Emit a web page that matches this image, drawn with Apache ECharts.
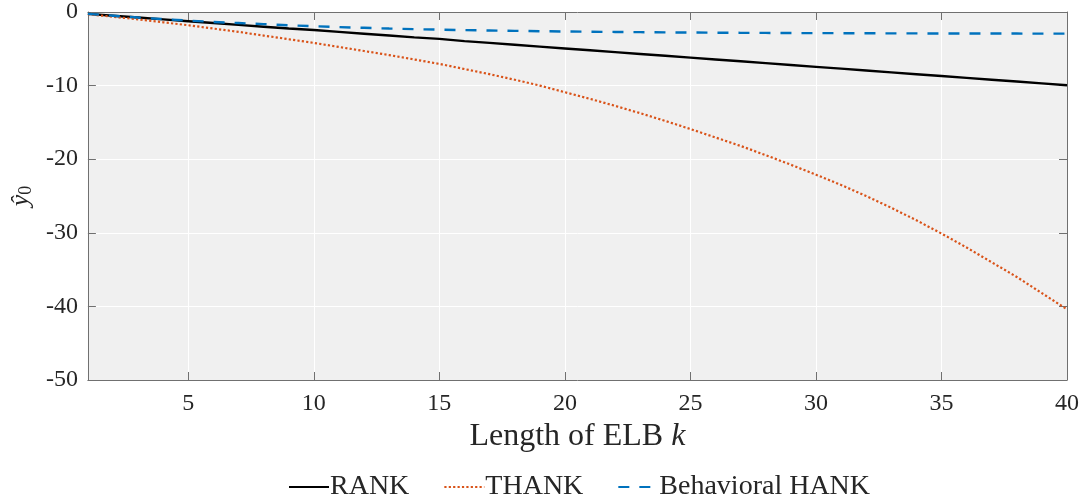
<!DOCTYPE html>
<html>
<head>
<meta charset="utf-8">
<script src="https://cdn.jsdelivr.net/npm/echarts@6/dist/echarts.min.js"></script>
<style>
html,body{margin:0;padding:0;background:#fff;}
#chart{width:1086px;height:502px;}
</style>
</head>
<body>
<div id="chart"></div>
<script>
// Length of ELB k
const kValues = [1,2,3,4,5,6,7,8,9,10,11,12,13,14,15,16,17,18,19,20,21,22,23,24,25,26,27,28,29,30,31,32,33,34,35,36,37,38,39,40];
// RANK (solid black)
const rank = [-0.25,-0.5,-0.75,-1.0,-1.25,-1.5,-1.75,-2.0,-2.25,-2.45,-2.7,-2.95,-3.2,-3.45,-3.65,-3.95,-4.2,-4.45,-4.7,-4.95,-5.2,-5.45,-5.7,-5.95,-6.2,-6.45,-6.7,-6.95,-7.2,-7.45,-7.7,-7.95,-8.2,-8.45,-8.7,-8.95,-9.2,-9.45,-9.7,-9.95];
// THANK (dotted orange)
const thank = [-0.3,-0.65,-1.0,-1.4,-1.8,-2.25,-2.7,-3.2,-3.7,-4.2,-4.75,-5.3,-5.85,-6.45,-7.05,-7.75,-8.45,-9.2,-10.0,-10.9,-11.8,-12.75,-13.75,-14.8,-15.9,-17.05,-18.2,-19.45,-20.75,-22.1,-23.5,-25.0,-26.6,-28.3,-30.1,-32.0,-34.0,-36.0,-38.2,-40.4];
// Behavioral HANK (dashed blue)
const bhank = [-0.25,-0.5,-0.75,-0.97,-1.17,-1.35,-1.5,-1.65,-1.8,-1.93,-2.05,-2.15,-2.25,-2.33,-2.4,-2.46,-2.51,-2.56,-2.61,-2.65,-2.68,-2.71,-2.74,-2.77,-2.79,-2.81,-2.83,-2.84,-2.86,-2.87,-2.88,-2.89,-2.9,-2.91,-2.92,-2.92,-2.93,-2.93,-2.94,-2.94];
const xTicks = [5,10,15,20,25,30,35,40];
const yTicks = [0,-10,-20,-30,-40,-50];
const seriesNames = ['RANK','THANK','Behavioral HANK'];

const FONT = 'Liberation Serif';
const TXT = '#262626';
const AX = '#707070';

function pairs(vals){ return kValues.map((k,i)=>[k, vals[i]]); }

const chart = echarts.init(document.getElementById('chart'), null, {renderer:'canvas'});
const option = {
  animation:false,
  backgroundColor:'#ffffff',
  textStyle:{fontFamily:FONT,color:TXT},
  grid:{left:86,right:19,top:12,bottom:122,show:true,backgroundColor:'#f0f0f0',borderWidth:0,containLabel:false},
  legend:{
    top:468,left:283,
    itemWidth:40,itemHeight:14,itemGap:34,
    itemStyle:{opacity:0,borderWidth:0},
    textStyle:{fontFamily:FONT,fontSize:28,color:TXT,padding:[0,0,0,-4]},
    data:seriesNames
  },
  xAxis:[{
    type:'value',min:1,max:40,position:'bottom',
    name:'Length of ELB {i|k}',nameLocation:'middle',nameGap:40,
    nameTextStyle:{fontFamily:FONT,fontSize:32,color:TXT,rich:{i:{fontFamily:FONT,fontSize:32,fontStyle:'italic',color:TXT}}},
    axisLine:{show:true,onZero:false,lineStyle:{color:AX,width:1}},
    axisTick:{show:true,inside:true,length:8,customValues:xTicks,lineStyle:{color:AX}},
    axisLabel:{show:true,customValues:xTicks,fontFamily:FONT,fontSize:24,color:TXT,margin:12},
    splitLine:{show:true,lineStyle:{color:'#ffffff',width:1}}
  },{
    type:'value',min:1,max:40,position:'top',
    axisLine:{show:true,onZero:false,lineStyle:{color:AX,width:1}},
    axisTick:{show:true,inside:true,length:8,customValues:xTicks,lineStyle:{color:AX}},
    axisLabel:{show:false},splitLine:{show:false}
  }],
  yAxis:[{
    type:'value',min:-50,max:0,interval:10,position:'left',
    name:'{y|ŷ}{s|0}',nameLocation:'middle',nameGap:52,nameRotate:90,
    nameTextStyle:{fontFamily:FONT,color:TXT,rich:{y:{fontFamily:FONT,fontSize:26,fontStyle:'italic',color:TXT},s:{fontFamily:FONT,fontSize:18,color:TXT,verticalAlign:'bottom',padding:[10,0,0,0]}}},
    axisLine:{show:true,onZero:false,lineStyle:{color:AX,width:1}},
    axisTick:{show:true,inside:true,length:8,lineStyle:{color:AX}},
    axisLabel:{show:true,fontFamily:FONT,fontSize:24,color:TXT,margin:10},
    splitLine:{show:true,lineStyle:{color:'#ffffff',width:1}}
  },{
    type:'value',min:-50,max:0,interval:10,position:'right',
    axisLine:{show:true,onZero:false,lineStyle:{color:AX,width:1}},
    axisTick:{show:true,inside:true,length:8,lineStyle:{color:AX}},
    axisLabel:{show:false},splitLine:{show:false}
  }],
  series:[
    {name:seriesNames[0],type:'line',data:pairs(rank),showSymbol:false,symbol:'none',clip:true,
     lineStyle:{color:'#000000',width:2.4,type:'solid'},itemStyle:{color:'#000000'}},
    {name:seriesNames[1],type:'line',data:pairs(thank),showSymbol:false,symbol:'none',clip:true,
     lineStyle:{color:'#D95319',width:2.2,type:[2.2,2.2]},itemStyle:{color:'#D95319'}},
    {name:seriesNames[2],type:'line',data:pairs(bhank),showSymbol:false,symbol:'none',clip:true,
     lineStyle:{color:'#0072BD',width:2.4,type:[11,10]},itemStyle:{color:'#0072BD'}}
  ]
};
chart.setOption(option);
</script>
</body>
</html>
